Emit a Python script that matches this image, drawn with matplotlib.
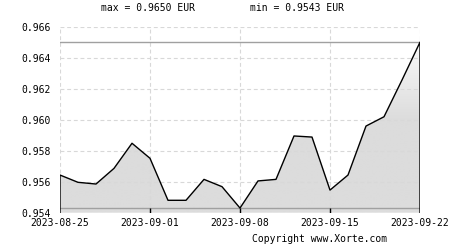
import numpy as np
import matplotlib.pyplot as plt
from matplotlib.colors import LinearSegmentedColormap
from matplotlib.patches import Polygon

# EUR rate, one point per trading day (weekdays only)
rates = [0.95643, 0.95596, 0.95585, 0.95686, 0.95848, 0.95751, 0.9548, 0.9548,
         0.95615, 0.95568, 0.9543, 0.95605, 0.95615, 0.95895, 0.95888, 0.95546,
         0.95643, 0.95959, 0.96019, 0.96256, 0.9650]
tick_labels = ['2023-08-25', '2023-09-01', '2023-09-08', '2023-09-15', '2023-09-22']
tick_idx = [0, 5, 10, 15, 20]
vmax = 0.9650
vmin = 0.9543

plt.rcParams['font.family'] = 'DejaVu Sans Mono'
plt.rcParams['font.size'] = 7

fig = plt.figure(figsize=(4.5, 2.5), dpi=100)
ax = fig.add_axes([60/450, (250-212.7)/250, 360/450, 186/250])

x = np.arange(len(rates))
ylo, yhi = 0.954, 0.966

# gradient fill clipped to the area under the line
poly = Polygon(np.column_stack([np.r_[x[0], x, x[-1]], np.r_[ylo, rates, ylo]]),
               closed=True, facecolor='none', edgecolor='none')
ax.add_patch(poly)
cmap = LinearSegmentedColormap.from_list('g', ['#dcdcdc', '#dcdcdc', '#ffffff'])
grad = np.linspace(0, 1, 200).reshape(-1, 1)
im = ax.imshow(grad, extent=[0, 20, ylo, yhi], origin='lower', aspect='auto',
               cmap=cmap, zorder=1, interpolation='bilinear')
im.set_clip_path(poly)

# grid
for yv in np.arange(ylo, yhi + 1e-9, 0.002):
    ax.axhline(yv, color='#d8d8d8', lw=0.8, ls=(0, (3.5, 2.5)), zorder=2)
for xv in tick_idx:
    ax.axvline(xv, color='#d8d8d8', lw=0.8, ls=(0, (3.5, 2.5)), zorder=2)

# max / min lines
ax.axhline(vmax, color='#a0a0a0', lw=1, zorder=3)
ax.axhline(vmin, color='#a0a0a0', lw=1, zorder=3)

# data line with end edges
ax.plot(np.r_[x[0], x, x[-1]], np.r_[ylo, rates, ylo], color='black', lw=1, zorder=4)
ax.vlines(tick_idx[1:-1], ylo, vmin, color='black', lw=1, zorder=4)

ax.set_xlim(0, 20)
ax.set_ylim(ylo, yhi)
ax.set_xticks(tick_idx)
ax.set_xticklabels(tick_labels)
ax.set_yticks(np.arange(ylo, yhi + 1e-9, 0.002))
ax.set_yticklabels(['%.3f' % v for v in np.arange(ylo, yhi + 1e-9, 0.002)])
ax.tick_params(length=0, pad=7)
ax.tick_params(axis='x', pad=4)
for s in ax.spines.values():
    s.set_visible(False)

fig.text(148/450, 1 - 8/250, 'max = %.4f EUR' % vmax, ha='center', va='center')
fig.text(297/450, 1 - 8/250, 'min = %.4f EUR' % vmin, ha='center', va='center')
fig.text(387/450, 1 - 239/250, 'Copyright www.Xorte.com', ha='right', va='center')

fig.savefig('out.png', dpi=100)
